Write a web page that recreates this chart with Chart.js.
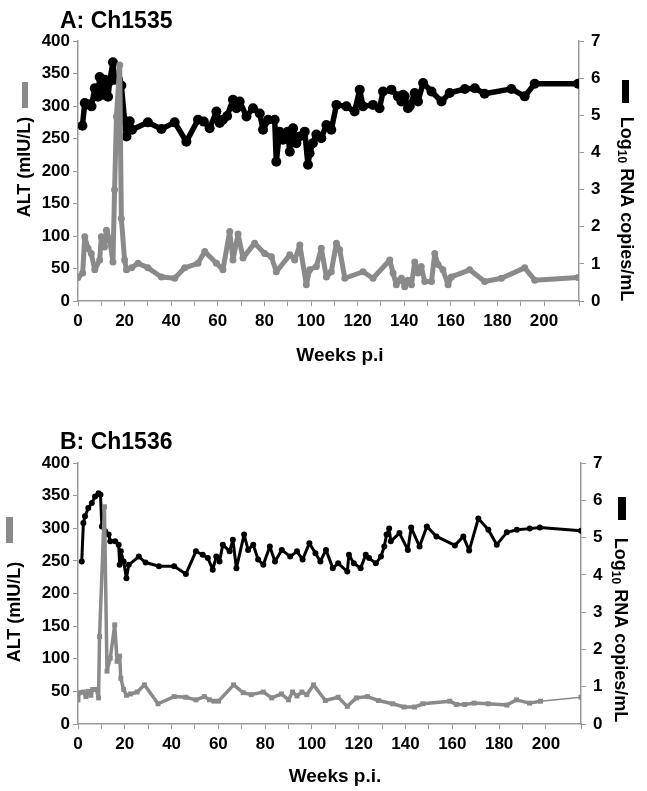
<!DOCTYPE html>
<html>
<head>
<meta charset="utf-8">
<script src="https://cdn.jsdelivr.net/npm/chart.js@4"></script>
<style>
  body { margin: 0; background: #fff; }
  canvas { position: absolute; left: 0; }
  #chartA { top: 0; }
  #chartB { top: 400px; }
</style>
</head>
<body>
<canvas id="chartA" width="647" height="400"></canvas>
<canvas id="chartB" width="647" height="391"></canvas>
<script>
// Panel A: Ch1535
const weeksAltA = [0, 2, 2.9, 4.3, 5.7, 7.2, 9.3, 10, 11.4, 12.2, 13.6, 15, 15.7, 16.5, 17.9, 18.6, 20, 20.8, 23, 25.8,
  30, 35.8, 41.5, 45.8, 51.5, 54.4, 59.4, 62.2, 65.1, 66.5, 68.7, 70.8, 75.8, 80.1, 83, 85.1, 90.9, 93, 95.2, 98,
  99.4, 102.3, 104.4, 106.6, 108.7, 110.9, 112.3, 114.5, 122.3, 126.6, 133.8, 135.2, 136.6, 138, 138.8, 140.2, 141.6, 143.1, 144.5, 145.9,
  147.3, 148.8, 151.7, 153.1, 154.5, 156.6, 158.8, 160.2, 168.1, 174.5, 181.7, 191.7, 196, 214.6];
const altA = [36, 43, 99, 81, 73, 48, 63, 99, 83, 109, 94, 60, 171, 284, 363, 127, 63, 48, 51, 58,
  51, 37, 35, 51, 58, 76, 58, 48, 107, 63, 103, 66, 89, 73, 68, 45, 71, 63, 86, 25,
  48, 53, 81, 37, 45, 89, 79, 35, 45, 35, 63, 43, 25, 32, 35, 22, 32, 25, 60, 43,
  53, 30, 30, 73, 56, 48, 25, 37, 48, 30, 35, 51, 32, 36];

const weeksRnaA = [1.9, 2.9, 4.3, 5.8, 7.2, 8.6, 9.3, 10.7, 11.5, 12.9, 13.6, 15, 15.7, 17.2, 18.6, 20, 20.8, 22.2, 23.2, 30,
  35.8, 41.5, 46.5, 51.5, 54, 56.5, 59.4, 60.8, 62.2, 64, 66.5, 68, 69.4, 72.3, 75.1, 78, 79.4, 81.6, 84.4, 85.1,
  86.5, 88, 90, 90.9, 92.3, 93.7, 95.1, 97.3, 98.7, 99.4, 100.8, 102.3, 104.4, 106.6, 108.7, 110.9, 115.2, 118.7, 120.9, 122.3,
  126.6, 129.4, 130.9, 134.5, 137.3, 138.8, 139.5, 140.2, 141.6, 142.4, 144.5, 145.9, 148.1, 151.7, 156, 159.5, 166, 170.3, 174.5, 186,
  191.7, 196, 214.6];
const rnaA = [4.72, 5.33, 5.30, 5.24, 5.73, 5.50, 6.03, 5.55, 5.96, 5.50, 5.91, 6.43, 5.96, 5.96, 5.80, 4.86, 4.43, 4.84, 4.61, 4.81,
  4.63, 4.81, 4.29, 4.88, 4.83, 4.65, 5.10, 4.79, 4.88, 4.98, 5.42, 5.19, 5.37, 4.97, 5.19, 5.05, 4.61, 4.88, 4.88, 3.75,
  4.56, 4.34, 4.56, 4.02, 4.65, 4.25, 4.43, 4.56, 3.67, 3.98, 4.25, 4.48, 4.38, 4.74, 4.61, 5.28, 5.24, 5.10, 5.69, 5.24,
  5.28, 5.19, 5.64, 5.69, 5.51, 5.37, 5.55, 5.51, 5.19, 5.25, 5.60, 5.37, 5.87, 5.64, 5.37, 5.60, 5.71, 5.73, 5.58, 5.71,
  5.51, 5.85, 5.85];

// Panel B: Ch1536
const weeksAltB = [0, 0.6, 2.3, 3.4, 4.4, 5.5, 6.3, 7.8, 8.8, 9.2, 11.3, 12.4, 13.8, 15.7, 16.7, 17.8, 18.3, 19.5, 20.7, 22.4,
  25.3, 28.4, 34.2, 41.1, 46.1, 50.4, 54, 56.2, 58.1, 60.1, 66.5, 70.6, 74.1, 79.2, 82.8, 87, 90, 91.7, 93.6, 95.7,
  97.8, 100.7, 105.7, 111.2, 115.1, 119, 123.7, 128.4, 134.5, 139.3, 143.8, 147.4, 158.9, 161.7, 165.3, 169.3, 175.3, 183.3, 187.4, 193,
  197.7, 215];
const altB = [37, 48, 49, 42, 50, 44, 53, 53, 40, 134, 333, 81, 101, 152, 96, 104, 70, 53, 44, 46,
  49, 60, 31, 42, 41, 37, 42, 37, 35, 35, 60, 48, 45, 49, 40, 46, 37, 49, 43, 49,
  45, 60, 36, 41, 27, 40, 42, 36, 31, 26, 26, 31, 35, 30, 30, 32, 31, 29, 37, 32,
  35, 41];

const weeksRnaB = [1.6, 2.3, 3, 4.4, 5.9, 7.3, 8.8, 9.6, 10.2, 11.6, 13.1, 13.8, 15.9, 17.4, 17.8, 18.3, 19.5, 20.7, 21.7, 26,
  28.9, 34.6, 41.1, 46.1, 50.4, 53.3, 55.5, 57.6, 59.1, 60.5, 61.9, 64.8, 66.2, 67.7, 71, 72.7, 74.9, 77, 79.2, 82,
  84.2, 87.1, 90.7, 93.6, 96, 98.9, 101.5, 103.6, 106, 108.9, 111.2, 115.1, 115.8, 117.9, 120.8, 123, 124.4, 127.3, 129.5, 130.9,
  131.9, 133, 133.7, 137.4, 141, 142.4, 146, 149.1, 153.2, 161.1, 164.7, 167.2, 171.1, 175.4, 179, 183.3, 187.6, 193.1, 197.4, 215];
const rnaB = [4.36, 5.39, 5.57, 5.79, 5.93, 6.10, 6.19, 6.15, 5.30, 5.17, 5.08, 4.90, 4.90, 4.81, 4.27, 4.63, 4.36, 3.91, 4.27, 4.49,
  4.33, 4.23, 4.23, 4.02, 4.63, 4.54, 4.45, 4.14, 4.49, 4.36, 4.81, 4.63, 4.94, 4.18, 5.08, 4.67, 4.81, 4.41, 4.27, 4.76,
  4.36, 4.67, 4.49, 4.63, 4.41, 4.85, 4.58, 4.36, 4.67, 4.18, 4.31, 4.09, 4.54, 4.31, 4.18, 4.54, 4.45, 4.31, 4.49, 4.76,
  5.08, 5.24, 4.90, 5.12, 4.67, 5.27, 4.76, 5.30, 5.03, 4.79, 5.03, 4.65, 5.51, 5.21, 4.81, 5.14, 5.21, 5.24, 5.27, 5.18];

const altTicks = [0, 400, 50];
const rnaTicks = [0, 7, 1];
const weekTicks = [0, 215, 10];

const GRAY = '#8a8a8a';
const AXIS = '#9a9a9a';
const FONT = '"Liberation Sans", Arial, sans-serif';

function toPoints(xs, ys) {
  return xs.map((x, i) => ({ x: x, y: ys[i] }));
}

// draws the panel letter, the axis titles and the little legend bars
const sideTitles = {
  id: 'sideTitles',
  afterDraw(chart, args, o) {
    const ctx = chart.ctx;
    ctx.save();
    ctx.fillStyle = '#000';
    ctx.font = 'bold 23px ' + FONT;
    ctx.textBaseline = 'middle';
    ctx.textAlign = 'left';
    ctx.fillText(o.title, o.titleX, o.titleY);

    // x title
    ctx.font = 'bold 19px ' + FONT;
    ctx.textAlign = 'center';
    ctx.fillText(o.xTitle, o.xTitleX, o.xTitleY);

    // left title, bottom to top
    ctx.save();
    ctx.translate(o.leftX, o.leftY);
    ctx.rotate(-Math.PI / 2);
    ctx.font = 'bold 18px ' + FONT;
    ctx.textAlign = 'center';
    ctx.fillText('ALT (mIU/L)', 0, 0);
    ctx.restore();
    ctx.fillStyle = GRAY;
    ctx.fillRect(o.leftBar[0], o.leftBar[1], o.leftBar[2], o.leftBar[3]);

    // right title, top to bottom, with subscript 10
    ctx.fillStyle = '#000';
    ctx.save();
    ctx.translate(o.rightX, o.rightY);
    ctx.rotate(Math.PI / 2);
    const big = 'bold 18px ' + FONT, small = 'bold 12px ' + FONT;
    ctx.font = big;
    const w1 = ctx.measureText('Log').width;
    const w3 = ctx.measureText(' RNA copies/mL').width;
    ctx.font = small;
    const w2 = ctx.measureText('10').width;
    let x = -(w1 + w2 + w3) / 2;
    ctx.textAlign = 'left';
    ctx.font = big;
    ctx.fillText('Log', x, 0);
    x += w1;
    ctx.font = small;
    ctx.fillText('10', x, 5);
    x += w2;
    ctx.font = big;
    ctx.fillText(' RNA copies/mL', x, 0);
    ctx.restore();
    ctx.fillRect(o.rightBar[0], o.rightBar[1], o.rightBar[2], o.rightBar[3]);
    ctx.restore();
  }
};

function makePanel(id, altSet, rnaSet, s) {
  const tickFont = { family: FONT, size: 17, weight: 'bold' };
  new Chart(document.getElementById(id), {
    type: 'line',
    data: {
      datasets: [{
        label: 'ALT',
        data: altSet,
        yAxisID: 'y',
        borderColor: GRAY,
        backgroundColor: GRAY,
        borderWidth: s.altWidth,
        borderJoinStyle: 'round',
        borderCapStyle: 'round',
        pointRadius: s.altRadius,
        pointStyle: s.altStyle,
        pointBorderWidth: 0,
        tension: 0,
        segment: s.altSegment
      }, {
        label: 'RNA',
        data: rnaSet,
        yAxisID: 'y1',
        borderColor: '#000',
        backgroundColor: '#000',
        borderWidth: s.rnaWidth,
        borderJoinStyle: 'round',
        borderCapStyle: 'round',
        pointRadius: s.rnaRadius,
        pointBorderWidth: 0,
        tension: 0
      }]
    },
    options: {
      responsive: false,
      animation: false,
      devicePixelRatio: 1,
      layout: { padding: { top: s.top, left: 0, right: 0, bottom: 0 } },
      plugins: {
        legend: { display: false },
        tooltip: { enabled: false },
        sideTitles: s.titles
      },
      scales: {
        x: {
          type: 'linear',
          min: weekTicks[0],
          max: weekTicks[1],
          afterFit: sc => { sc.height = s.xHeight; },
          ticks: {
            stepSize: weekTicks[2],
            autoSkip: false,
            maxRotation: 0,
            color: '#000',
            font: tickFont,
            padding: 5,
            callback: v => (v % 20 === 0 ? v : '')
          },
          grid: { drawOnChartArea: false, tickLength: 5, color: AXIS },
          border: { color: AXIS, width: 1.5 }
        },
        y: {
          position: 'left',
          min: altTicks[0],
          max: altTicks[1],
          afterFit: sc => { sc.width = 78; },
          ticks: { stepSize: altTicks[2], color: '#000', font: tickFont, padding: 3 },
          grid: { drawOnChartArea: false, tickLength: 5, color: AXIS },
          border: { color: AXIS, width: 1.5 }
        },
        y1: {
          position: 'right',
          min: rnaTicks[0],
          max: rnaTicks[1],
          afterFit: sc => { sc.width = s.rightWidth; },
          ticks: { stepSize: rnaTicks[2], color: '#000', font: tickFont, padding: 7 },
          grid: { drawOnChartArea: false, tickLength: 5, color: AXIS },
          border: { color: AXIS, width: 1.5 }
        }
      }
    },
    plugins: [sideTitles]
  });
}

makePanel('chartA', toPoints(weeksAltA, altA), toPoints(weeksRnaA, rnaA), {
  top: 41, xHeight: 99, rightWidth: 68,
  altWidth: 5, altRadius: 3.5, altStyle: 'circle', rnaWidth: 5.5, rnaRadius: 5,
  titles: {
    title: 'A: Ch1535', titleX: 60, titleY: 22,
    xTitle: 'Weeks p.i', xTitleX: 340, xTitleY: 356,
    leftX: 25, leftY: 167, leftBar: [22, 82, 6, 26],
    rightX: 626, rightY: 209, rightBar: [622, 80, 7, 23]
  }
});

const lastB = altB.length - 1;
makePanel('chartB', toPoints(weeksAltB, altB), toPoints(weeksRnaB, rnaB), {
  top: 63, xHeight: 67, rightWidth: 66,
  altWidth: 3.5, altRadius: 3.5, altStyle: 'rect', rnaWidth: 3, rnaRadius: 3,
  altSegment: { borderWidth: c => (c.p1DataIndex === lastB ? 1.5 : 3.5) },
  titles: {
    title: 'B: Ch1536', titleX: 60, titleY: 43,
    xTitle: 'Weeks p.i.', xTitleX: 335, xTitleY: 377,
    leftX: 15, leftY: 212, leftBar: [6, 117, 7, 26],
    rightX: 620, rightY: 230, rightBar: [618, 97, 8, 23]
  }
});
</script>
</body>
</html>
